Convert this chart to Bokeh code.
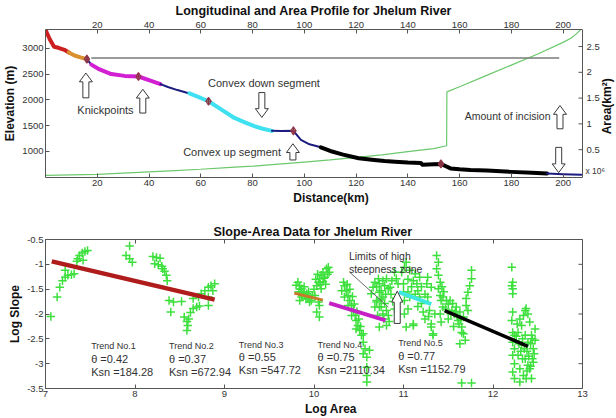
import math
from bokeh.plotting import figure
from bokeh.layouts import column
from bokeh.models import Range1d, LinearAxis, FixedTicker, Label, CustomJSTickFormatter
from bokeh.core.properties import value
from bokeh.embed import file_html
from bokeh.resources import INLINE

FONT = "Liberation Sans"

# ---------------- data: longitudinal profile ----------------
dist_km = [0, 1.6, 3.3, 5, 7.3, 9, 11.2, 13.5, 16, 17.7, 20.9, 25.4, 30.6, 35.9, 40.8, 44.4,
           47.3, 51, 55.6, 59, 63, 68, 73, 77, 80.7, 84, 87.5, 91, 95.8, 98.7, 102, 106.4,
           110, 115, 121, 127, 131, 135, 140, 145, 145.6, 150, 152.8, 154.5, 156.5, 160,
           164.2, 170.6, 180, 188, 193.8, 200, 207]
elev_m = [3360, 3180, 3030, 3010, 2970, 2920, 2860, 2825, 2790, 2683, 2590, 2500, 2465, 2453,
          2370, 2305, 2250, 2190, 2125, 2060, 1974, 1810, 1650, 1565, 1490, 1440, 1400, 1398,
          1400, 1225, 1140, 1081, 1010, 940, 870, 835, 815, 800, 785, 779, 745, 755, 760, 720,
          672, 655, 642, 630, 605, 590, 575, 560, 550]
segment_start_km = [0, 9, 16, 17.7, 44.4, 55.6, 87.5, 106.4, 193.8]
segment_end_km = [9, 16, 17.7, 44.4, 55.6, 87.5, 106.4, 193.8, 207]

knick_km = [16, 35.9, 63, 95.8, 152.8]
knick_elev = [2790, 2453, 1974, 1400, 760]

incision_km = [17.7, 198.5]
incision_elev = [2811, 2811]

area_km = [0, 10, 20, 30, 40, 50, 60, 70, 80, 90, 100, 110, 120, 130, 140, 150, 155, 155.1,
           160, 170, 180, 190, 200, 203, 205, 207]
area_1e6 = [0, 0.01, 0.02, 0.045, 0.07, 0.095, 0.12, 0.15, 0.18, 0.22, 0.26, 0.30, 0.35,
            0.40, 0.46, 0.52, 0.575, 1.62, 1.72, 1.93, 2.14, 2.35, 2.58, 2.66, 2.74, 2.84]

dist_ticks = [20, 40, 60, 80, 100, 120, 140, 160, 180, 200]
elev_ticks = [1000, 1500, 2000, 2500, 3000]
area_ticks = [0.5, 1, 1.5, 2, 2.5]
area_tick_labels = ["0.5", "1", "1.5", "2", "2.5"]

# ---------------- data: slope-area ----------------
log_area = [
    7.06, 7.13, 7.16, 7.19, 7.22, 7.25, 7.29, 7.32, 7.22, 7.35, 7.36, 7.38, 7.41, 7.44, 7.47, 7.42,
    7.94, 7.90, 7.94, 7.97,
    8.20, 8.24, 8.28, 8.22, 8.26, 8.30, 8.31, 8.33, 8.35, 8.36,
    8.38, 8.43, 8.52, 8.40,
    8.55, 8.58, 8.59, 8.58, 8.60, 8.62, 8.65, 8.69, 8.72, 8.82,
    8.65, 8.71, 8.74, 8.78, 8.82, 8.85, 8.89, 8.87, 8.82,
    9.82, 9.84, 9.86, 9.88, 9.90, 9.92, 9.86, 9.93, 9.95, 9.97, 9.84,
    10.03, 10.05, 10.06, 10.08, 10.10, 10.14, 10.16, 10.17, 10.12, 10.08, 10.05, 10.06, 10.03, 10.01, 10.06,
    9.80, 9.83, 9.89, 9.94, 9.98, 10.00, 10.02, 10.04, 10.10, 10.13,
    9.85, 9.87, 9.91, 10.07, 10.11, 10.15,
    10.33, 10.34, 10.36, 10.38, 10.40, 10.42, 10.44, 10.46, 10.47, 10.49, 10.51, 10.53, 10.55,
    10.57, 10.59, 10.59, 10.59, 10.59, 10.55, 10.62, 10.31, 10.34, 10.38, 10.42, 10.47,
    10.37, 10.40, 10.43, 10.45, 10.48, 10.50, 10.52, 10.55,
    10.64, 10.66, 10.68, 10.72, 10.73, 10.75, 10.77, 10.79, 10.81, 10.83, 10.70, 10.73, 10.77,
    10.73, 10.81, 10.68, 10.85, 10.87, 10.90, 10.92, 10.94,
    10.77, 10.81, 10.79, 10.83, 10.73, 10.70, 10.75, 10.71,
    10.70, 10.75, 10.80, 10.86, 10.88, 10.90, 10.78, 10.84,
    10.98, 11.01, 11.03, 11.07, 11.11, 11.13, 11.15, 11.16, 11.18, 11.20, 11.22, 11.24, 11.11,
    11.03, 11.26, 11.27, 11.29, 11.31, 11.07, 11.01, 11.00, 11.18, 11.33, 11.35, 11.31, 11.27,
    11.11, 11.01,
    11.05, 11.09, 11.13, 11.05, 11.20, 11.24, 11.16, 11.28, 11.05, 11.00,
    11.37, 11.39, 11.37, 11.39, 11.41, 11.39, 11.41, 11.42, 11.44, 11.41, 11.42, 11.44, 11.48,
    11.52, 11.55, 11.59, 11.63, 11.67, 11.57, 11.61, 11.65, 11.67, 11.69, 11.54, 11.50,
    11.45, 11.47, 11.50, 11.53, 11.58, 11.60, 11.62, 11.64, 11.56, 11.43,
    11.76, 11.76, 11.74, 11.72, 11.70, 11.70, 11.72,
    11.65, 11.76, 11.63, 11.65, 11.33, 11.31,
    12.21, 12.22, 12.21, 12.22, 12.22, 12.22, 12.21, 12.22, 12.24, 12.22, 12.24, 12.22, 12.24,
    12.22, 12.24,
    12.28, 12.32, 12.34, 12.36, 12.37, 12.39, 12.41, 12.43, 12.45, 12.44, 12.41, 12.37, 12.34,
    12.30, 12.28, 12.32, 12.36, 12.39, 12.36, 12.39, 12.43, 12.30, 12.45, 12.47, 12.27, 12.30,
    12.26, 12.29, 12.31, 12.33, 12.35, 12.38, 12.40, 12.42, 12.44, 12.46, 12.33, 12.38, 12.42, 12.47,
]
log_slope = [
    -2.05, -1.66, -1.46, -1.33, -1.26, -1.22, -1.21, -1.19, -1.12, -0.94, -0.89, -0.82, -0.77, -0.74, -0.72, -0.92,
    -0.63, -0.82, -0.89, -0.96,
    -0.84, -0.86, -0.88, -0.99, -1.01, -1.04, -1.09, -1.14, -1.22, -1.33,
    -1.73, -1.76, -1.75, -1.96,
    -2.06, -2.15, -2.23, -2.33, -2.10, -1.97, -1.89, -1.86, -1.84, -1.83,
    -1.69, -1.66, -1.59, -1.53, -1.46, -1.43, -1.39, -1.53, -1.66,
    -1.36, -1.43, -1.49, -1.56, -1.63, -1.59, -1.66, -1.69, -1.76, -1.73, -1.73,
    -1.43, -1.36, -1.29, -1.22, -1.16, -1.09, -1.06, -1.16, -1.26, -1.49, -1.76, -1.83, -1.96, -1.63, -2.06,
    -1.42, -1.55, -1.45, -1.55, -1.62, -1.50, -1.30, -1.20, -1.35, -1.40,
    -1.50, -1.62, -1.70, -1.40, -1.28, -1.20,
    -1.36, -1.43, -1.53, -1.63, -1.73, -1.83, -1.93, -2.03, -2.13, -2.23, -2.33, -2.43, -2.57,
    -2.70, -2.87, -3.07, -3.24, -3.37, -2.80, -2.73, -1.53, -1.66, -1.83, -2.03, -2.30,
    -1.40, -1.50, -1.65, -1.80, -1.95, -2.10, -2.25, -2.40,
    -1.59, -1.46, -1.36, -1.29, -1.39, -1.53, -1.66, -1.79, -1.93, -2.03, -1.73, -1.86, -2.00,
    -2.26, -2.23, -1.86, -1.46, -1.33, -1.16, -1.29, -1.39,
    -1.33, -1.29, -1.43, -1.49, -1.56, -1.76, -1.86, -2.03,
    -1.45, -1.70, -1.60, -1.60, -1.75, -1.90, -2.10, -2.15,
    -1.16, -1.06, -0.96, -1.12, -1.33, -1.19, -1.39, -1.53, -1.66, -1.79, -1.96, -2.10, -2.20,
    -2.26, -1.39, -1.66, -1.93, -2.26, -1.66, -1.73, -1.39, -1.26, -2.40, -2.00, -1.46, -1.26,
    -2.23, -2.00,
    -1.30, -1.45, -1.60, -1.55, -1.45, -1.60, -1.85, -2.05, -1.90, -1.55,
    -0.82, -0.96, -1.09, -1.22, -1.36, -1.49, -1.63, -1.73, -1.86, -2.00, -2.16, -1.66, -1.73,
    -1.73, -1.79, -1.86, -1.96, -2.06, -2.00, -2.13, -2.26, -2.40, -2.53, -1.93, -2.10,
    -1.55, -1.90, -1.80, -2.00, -1.95, -2.05, -2.20, -2.10, -2.25, -1.45,
    -1.12, -1.29, -1.43, -1.56, -1.69, -1.83, -1.93,
    -3.39, -3.39, -2.60, -2.37, -2.43, -2.20,
    -1.06, -1.36, -1.43, -1.49, -1.59, -1.96, -2.13, -2.37, -2.43, -2.57, -2.70, -2.83, -3.00,
    -3.17, -3.30,
    -2.37, -2.23, -2.03, -1.93, -1.89, -2.00, -2.16, -2.43, -2.70, -2.90, -3.10, -3.30, -3.24,
    -3.10, -2.83, -2.63, -2.43, -2.57, -2.90, -3.03, -3.30, -3.37, -2.97, -2.53, -2.20, -2.10,
    -2.45, -2.60, -2.75, -2.90, -2.70, -2.75, -2.85, -2.60, -2.50, -2.80, -2.50, -3.15, -3.05, -2.30,
]

trend_x0 = [7.07, 9.78, 10.17, 10.95, 11.46]
trend_y0 = [-0.94, -1.58, -1.78, -1.56, -1.93]
trend_x1 = [8.89, 10.10, 10.80, 11.31, 12.39]
trend_y1 = [-1.71, -1.72, -2.13, -1.80, -2.65]
trend_names = ["Trend No.1", "Trend No.2", "Trend No.3", "Trend No.4", "Trend No.5"]
trend_theta = ["0.42", "0.37", "0.55", "0.75", "0.77"]
trend_ksn = ["184.28", "672.94", "547.72", "2110.34", "1152.79"]

logarea_ticks = [7, 8, 9, 10, 11, 12, 13]
logslope_ticks = [-3.5, -3, -2.5, -2, -1.5, -1, -0.5]

# ---------------- styles / geometry ----------------
segment_colors = ["#cc1f1f", "#d9902e", "#1c1c80", "#d21fd2", "#1c1c80", "#3fe0ef",
                  "#1c1c80", "#000000", "#1c1c80"]
segment_widths = [4, 4, 2, 4, 2, 4, 2, 4, 2]
trend_colors = ["#b01c1c", "#c8782a", "#c51fc5", "#3ee8e0", "#000000"]
trend_widths = [4.5, 3, 4, 4, 3.5]
TXT = "#333333"
AX = "#555555"

W = 616
LEFT = 45
X1 = (0, 207.5)          # distance axis extent
Y1 = (496, 3364)         # elevation axis extent
A1 = (-0.04, 2.83)       # area axis extent
X2 = (7, 13)
Y2 = (-3.5, -0.5)
FRAME_W = 537            # visible box width in px; the rest (right strip) holds the right axis
F1_H, F2_H = 152, 149

plain = CustomJSTickFormatter(code="return tick.toString();")
blank = CustomJSTickFormatter(code="return '';")


def style_axis(ax, show_labels=True):
    ax.major_tick_in = 4
    ax.major_tick_out = 0
    ax.minor_tick_line_color = None
    ax.axis_line_color = AX
    ax.major_tick_line_color = AX
    ax.major_label_text_font = FONT
    ax.major_label_text_font_size = "9.5px" if show_labels else "1px"
    ax.major_label_text_color = "#333333"
    ax.major_label_standoff = 2 if show_labels else 0
    ax.axis_label_text_font = FONT
    ax.axis_label_text_font_size = "12px"
    ax.axis_label_text_font_style = "bold"
    ax.axis_label_text_color = "#111111"
    ax.axis_label_standoff = 2


def block_arrow(p, xc, y_tip, y_base, xpp, ypp, head_w=13, shaft_w=6, head_h=9):
    d = 1 if y_tip > y_base else -1
    hw = head_w * xpp / 2
    sw = shaft_w * xpp / 2
    ny = y_tip - d * head_h * ypp
    xs = [xc, xc + hw, xc + sw, xc + sw, xc - sw, xc - sw, xc - hw]
    ys = [y_tip, ny, ny, y_base, y_base, ny, ny]
    p.patch(xs, ys, fill_color="white", line_color="#3a3a3a", line_width=1)


def style_title(p, text, offset):
    p.title.text = text
    p.title.align = "left"
    p.title.offset = offset
    p.title.text_font = FONT
    p.title.text_font_size = "12.5px"
    p.title.text_font_style = "bold"
    p.title.text_color = "#111111"
    p.title.standoff = 2


def right_edge(p, xr, yr, ticks, xpp, y_range_name="default"):
    """Right frame edge with inward ticks (drawn inside the widened frame)."""
    p.segment(x0=[xr[1]], y0=[yr[0]], x1=[xr[1]], y1=[yr[1]], line_color=AX, line_width=1)
    n = len(ticks)
    p.segment(x0=[xr[1]] * n, y0=ticks, x1=[xr[1] - 4 * xpp] * n, y1=ticks,
              line_color=AX, line_width=1, y_range_name=y_range_name)


# ================= top figure =================
XPP1 = (X1[1] - X1[0]) / FRAME_W
YPP1 = (Y1[1] - Y1[0]) / F1_H
x1_end = X1[1] + (W - LEFT - FRAME_W) * XPP1

p1 = figure(width=W, height=207, output_backend="svg", toolbar_location=None,
            x_range=Range1d(X1[0], x1_end), y_range=Range1d(*Y1),
            min_border_left=LEFT, min_border_right=0, min_border_top=29, min_border_bottom=26)
style_title(p1, "Longitudinal and Area Profile for Jhelum River", 130)
p1.grid.visible = False
p1.outline_line_color = None
p1.extra_y_ranges = {"area": Range1d(*A1)}

p1.xaxis.ticker = FixedTicker(ticks=dist_ticks)
p1.xaxis.formatter = plain
p1.xaxis.axis_label = "Distance(km)"
p1.xaxis.bounds = X1
p1.yaxis.ticker = FixedTicker(ticks=elev_ticks)
p1.yaxis.formatter = plain
p1.yaxis.axis_label = "Elevation (m)"
top1 = LinearAxis(ticker=FixedTicker(ticks=dist_ticks), formatter=plain, bounds=X1)
p1.add_layout(top1, "above")
for ax in list(p1.xaxis) + list(p1.yaxis):
    style_axis(ax)
right_edge(p1, X1, Y1, area_ticks, XPP1, "area")
p1.text(x=[X1[1] + 4 * XPP1] * len(area_ticks), y=area_ticks, text=area_tick_labels,
        y_range_name="area", text_font=value(FONT), text_font_size="9.5px",
        text_color="#333333", text_baseline="middle", text_align="left")
p1.text(x=[X1[1] + 3 * XPP1], y=[0.09], text=["x 10\u2076"], y_range_name="area",
        text_font=value(FONT), text_font_size="8.5px", text_color="#333333",
        text_baseline="middle", text_align="left")
p1.text(x=[X1[1] + 24 * XPP1], y=[1.34], text=["Area(km\u00b2)"], y_range_name="area",
        angle=math.pi / 2, text_font=value(FONT), text_font_size="12px",
        text_font_style="bold", text_color="#111111", text_baseline="middle",
        text_align="center")

# area line
p1.line(area_km, area_1e6, y_range_name="area", line_color="#6cc86c", line_width=1.2)
# incision reference line
p1.line(incision_km, incision_elev, line_color="#7a7a7a", line_width=1.5)
# profile segments
for s, e, c, w in zip(segment_start_km, segment_end_km, segment_colors, segment_widths):
    xs = [d for d in dist_km if s <= d <= e]
    ys = [z for d, z in zip(dist_km, elev_m) if s <= d <= e]
    p1.line(xs, ys, line_color=c, line_width=w, line_join="round", line_cap="round")
p1.scatter(knick_km, knick_elev, marker="diamond_cross", size=8, line_color="#8e3446",
           fill_color="#c77b8a", fill_alpha=0.4, line_width=1.2)

# annotation arrows on the profile (km, elevation)
arrow_x = [15.6, 37.6, 83.6, 95.6, 198.8, 198.3]
arrow_tip = [2520, 2205, 1660, 1150, 1890, 590]
arrow_base = [2040, 1745, 2142, 836, 1440, 1080]
for xc, yt, yb in zip(arrow_x, arrow_tip, arrow_base):
    block_arrow(p1, xc, yt, yb, XPP1, YPP1)

for txt, x, y, fs in [("Knickpoints", 12.3, 1804, "11px"), ("Convex down segment", 62.8, 2326, "11px"),
                      ("Convex up segment", 53.2, 990, "11px"), ("Amount of incision", 162.0, 1691, "10.5px")]:
    p1.add_layout(Label(x=x, y=y, text=txt, text_font=FONT, text_font_size=fs,
                        text_color=TXT, text_baseline="middle"))

# ================= bottom figure =================
XPP2 = (X2[1] - X2[0]) / FRAME_W
YPP2 = (Y2[1] - Y2[0]) / F2_H
x2_end = X2[1] + (W - LEFT - FRAME_W) * XPP2

p2 = figure(width=W, height=211, output_backend="svg", toolbar_location=None,
            x_range=Range1d(X2[0], x2_end), y_range=Range1d(*Y2),
            min_border_left=LEFT, min_border_right=0, min_border_top=32, min_border_bottom=30)
style_title(p2, "Slope-Area Data for Jhelum River", 168)
p2.grid.visible = False
p2.outline_line_color = None
p2.xaxis.ticker = FixedTicker(ticks=logarea_ticks)
p2.xaxis.formatter = plain
p2.xaxis.axis_label = "Log Area"
p2.xaxis.bounds = X2
p2.yaxis.ticker = FixedTicker(ticks=logslope_ticks)
p2.yaxis.formatter = plain
p2.yaxis.axis_label = "Log Slope"
for ax in list(p2.xaxis) + list(p2.yaxis):
    style_axis(ax)
top2 = LinearAxis(ticker=FixedTicker(ticks=logarea_ticks), formatter=blank, bounds=X2)
style_axis(top2, False)
p2.add_layout(top2, "above")
right_edge(p2, X2, Y2, logslope_ticks, XPP2)

p2.scatter(log_area, log_slope, marker="cross", size=8.5, line_color="#3ee03e", line_width=1.5)
for x0, y0, x1, y1, c, w in zip(trend_x0, trend_y0, trend_x1, trend_y1, trend_colors, trend_widths):
    p2.line([x0, x1], [y0, y1], line_color=c, line_width=w)

trend_text_x = [7.51, 8.38, 9.16, 10.04, 10.94]
trend_text_y = [-2.65, -2.65, -2.62, -2.62, -2.59]
for name, th, k, x, y in zip(trend_names, trend_theta, trend_ksn, trend_text_x, trend_text_y):
    p2.add_layout(Label(x=x, y=y, text=name, text_font=FONT, text_font_size="9px",
                        text_color=TXT, text_baseline="middle"))
    p2.add_layout(Label(x=x, y=y - 0.25, text="\u03b8 =" + th, text_font=FONT,
                        text_font_size="11px", text_color=TXT, text_baseline="middle"))
    p2.add_layout(Label(x=x, y=y - 0.51, text="Ksn =" + k, text_font=FONT,
                        text_font_size="11px", text_color=TXT, text_baseline="middle"))

p2.add_layout(Label(x=10.39, y=-0.84, text="Limits of high", text_font=FONT,
                    text_font_size="10.5px", text_color=TXT, text_baseline="middle"))
p2.add_layout(Label(x=10.39, y=-1.09, text="steepness zone", text_font=FONT,
                    text_font_size="10.5px", text_color=TXT, text_baseline="middle"))
p2.line([10.40, 10.83], [-1.16, -1.86], line_color="#444444", line_width=0.8)
block_arrow(p2, 10.93, -1.54, -2.19, XPP2, YPP2, head_w=11, shaft_w=6, head_h=11)

layout = column(p1, p2, spacing=0)
open("out.html", "w").write(file_html(layout, INLINE))
